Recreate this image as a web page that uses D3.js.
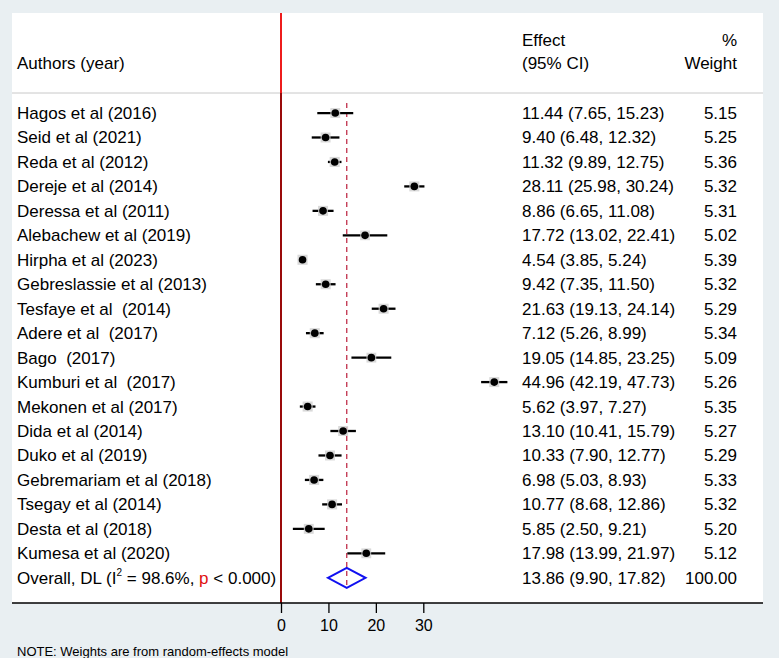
<!DOCTYPE html>
<html><head><meta charset="utf-8">
<script src="https://cdn.jsdelivr.net/npm/d3@7"></script>
<style>body{margin:0;background:#e9eff2;} svg{display:block;font-family:Arial,"Liberation Sans",sans-serif;} text{white-space:pre;}</style>
</head><body><svg id="c" width="779" height="658"></svg>
<script>
const authors = ["Hagos et al (2016)","Seid et al (2021)","Reda et al (2012)","Dereje et al (2014)","Deressa et al (2011)","Alebachew et al (2019)","Hirpha et al (2023)","Gebreslassie et al (2013)","Tesfaye et al  (2014)","Adere et al  (2017)","Bago  (2017)","Kumburi et al  (2017)","Mekonen et al (2017)","Dida et al (2014)","Duko et al (2019)","Gebremariam et al (2018)","Tsegay et al (2014)","Desta et al (2018)","Kumesa et al (2020)"];
const effect = [11.44,9.40,11.32,28.11,8.86,17.72,4.54,9.42,21.63,7.12,19.05,44.96,5.62,13.10,10.33,6.98,10.77,5.85,17.98];
const lower  = [7.65,6.48,9.89,25.98,6.65,13.02,3.85,7.35,19.13,5.26,14.85,42.19,3.97,10.41,7.90,5.03,8.68,2.50,13.99];
const upper  = [15.23,12.32,12.75,30.24,11.08,22.41,5.24,11.50,24.14,8.99,23.25,47.73,7.27,15.79,12.77,8.93,12.86,9.21,21.97];
const weight = [5.15,5.25,5.36,5.32,5.31,5.02,5.39,5.32,5.29,5.34,5.09,5.26,5.35,5.27,5.29,5.33,5.32,5.20,5.12];
const overall = {effect:13.86, lower:9.90, upper:17.82, weight:100.00};
const xTicks = [0,10,20,30];

(function(){
const svg = d3.select("#c");
const pL=12, pR=763, pT=13, hdrLine=93, axisY=603;
const colE = 522, colW = 737;
const x = d3.scaleLinear().domain([0,30]).range([281,423.3]);
const y = d3.scaleBand().domain(d3.range(authors.length+1)).range([100.8, 590]);
const cy = i => y(i)+y.bandwidth()/2;

svg.append("rect").attr("x",pL).attr("y",pT).attr("width",pR-pL).attr("height",axisY-pT).attr("fill","#fff");
svg.append("line").attr("x1",pL).attr("x2",pR).attr("y1",hdrLine).attr("y2",hdrLine).attr("stroke","#c8c8c8").attr("stroke-width",1);

const fs = 17;
const txt = (t,xx,yy,anchor="start",size=fs)=>svg.append("text").attr("x",xx).attr("y",yy).attr("font-size",size).attr("text-anchor",anchor).attr("fill","#000").text(t);
txt("Authors (year)",17,69);
txt("Effect",colE,46);
txt("(95% CI)",colE,69);
txt("%",colW,46,"end");
txt("Weight",colW,69,"end");

svg.append("line").attr("x1",x(0)).attr("x2",x(0)).attr("y1",pT).attr("y2",hdrLine).attr("stroke","#ee1c1c").attr("stroke-width",2);
svg.append("line").attr("x1",x(0)).attr("x2",x(0)).attr("y1",hdrLine).attr("y2",axisY).attr("stroke","#9a0a0a").attr("stroke-width",2);

svg.append("line").attr("x1",x(overall.effect)).attr("x2",x(overall.effect)).attr("y1",103).attr("y2",cy(authors.length)+10)
  .attr("stroke","#c0304a").attr("stroke-width",1.3).attr("stroke-dasharray","5,4");

const fmt = d3.format(".2f");
authors.forEach((a,i)=>{
  const yy = cy(i);
  txt(a,17,yy+6);
  txt(`${fmt(effect[i])} (${fmt(lower[i])}, ${fmt(upper[i])})`,colE,yy+6);
  txt(fmt(weight[i]),colW,yy+6,"end");
  svg.append("line").attr("x1",x(lower[i])).attr("x2",x(upper[i])).attr("y1",yy).attr("y2",yy).attr("stroke","#000").attr("stroke-width",2.3);
  const s = 10*Math.sqrt(weight[i]/5.3);
  svg.append("rect").attr("x",x(effect[i])-s/2).attr("y",yy-s/2).attr("width",s).attr("height",s).attr("fill","#d0d0d0").attr("opacity",0.8);
  svg.append("circle").attr("cx",x(effect[i])).attr("cy",yy).attr("r",3.8).attr("fill","#000");
});

const oy = cy(authors.length);
const ot = svg.append("text").attr("x",17).attr("y",oy+6).attr("font-size",fs).attr("fill","#000");
ot.append("tspan").text("Overall, DL (I");
ot.append("tspan").attr("font-size",10).attr("dy",-8).text("2");
ot.append("tspan").attr("dy",8).text(" = 98.6%, ");
ot.append("tspan").attr("fill","#e01010").text("p");
ot.append("tspan").text(" < 0.000)");
txt(`${fmt(overall.effect)} (${fmt(overall.lower)}, ${fmt(overall.upper)})`,colE,oy+6);
txt(fmt(overall.weight),colW,oy+6,"end");
svg.append("path").attr("d",`M${x(overall.lower)},${oy} L${x(overall.effect)},${oy-10} L${x(overall.upper)},${oy} L${x(overall.effect)},${oy+10} Z`)
  .attr("fill","none").attr("stroke","#1010f0").attr("stroke-width",2);

svg.append("line").attr("x1",pL).attr("x2",pR).attr("y1",axisY).attr("y2",axisY).attr("stroke","#000").attr("stroke-width",1.3);
const ax = svg.append("g").attr("transform",`translate(0,${axisY})`)
  .call(d3.axisBottom(x).tickValues(xTicks).tickSize(10).tickPadding(7).tickSizeOuter(0));
ax.select(".domain").remove();
ax.selectAll(".tick line").attr("stroke","#000").attr("stroke-width",1.3);
ax.selectAll(".tick text").attr("font-size",16).attr("fill","#000").attr("font-family","Arial,'Liberation Sans',sans-serif");

txt("NOTE: Weights are from random-effects model",17,656,"start",13);
})();
</script></body></html>
